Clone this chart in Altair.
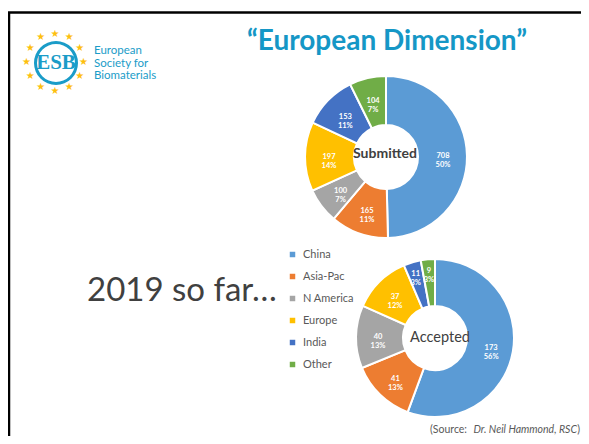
import altair as alt
import pandas as pd

# ---------------- data ----------------
regions = ["China", "Asia-Pac", "N America", "Europe", "India", "Other"]
colors = ["#5B9BD5", "#ED7D31", "#A5A5A5", "#FFC000", "#4472C4", "#70AD47"]
submitted = [708, 165, 100, 197, 153, 104]
submitted_pct = ["50%", "11%", "7%", "14%", "11%", "7%"]
accepted = [173, 41, 40, 37, 11, 9]
accepted_pct = ["56%", "13%", "13%", "12%", "3%", "3%"]
star_angles = [0, 30, 60, 90, 120, 150, 180, 210, 240, 270, 300, 330]

W, H = 573, 428
TEAL = "#1A9CC8"
one = pd.DataFrame({"k": [0]})


def donut_df(values, pcts):
    total = sum(values)
    return pd.DataFrame({
        "region": regions,
        "value": values,
        "idx": list(range(len(values))),
        "label": [f"{v}\n{p}" for v, p in zip(values, pcts)],
        "small": [v / total < 0.05 for v in values],
    })


color_enc = alt.Color(
    "region:N",
    scale=alt.Scale(domain=regions, range=colors),
    sort=regions,
    legend=alt.Legend(
        title=None, orient="none", legendX=279, legendY=241,
        symbolType="square", symbolSize=30, symbolStrokeWidth=0,
        labelFont="Lato", labelFontSize=11, labelColor="#595959",
        rowPadding=10, labelOffset=5, padding=0, labelLimit=200,
    ),
)


def donut(df, cx, cy, r_out, r_in):
    base = alt.Chart(df).encode(
        theta=alt.Theta("value:Q", stack=True),
        order=alt.Order("idx:Q", sort="ascending"),
        x=alt.value(cx),
        y=alt.value(cy),
    )
    arc = base.mark_arc(outerRadius=r_out, innerRadius=r_in,
                        stroke="white", strokeWidth=2).encode(color=color_enc)
    txt_style = dict(lineBreak="\n", font="Lato", fontSize=7.5,
                     fontWeight="bold", color="white", lineHeight=9,
                     align="center", baseline="middle")
    lab_big = base.mark_text(radius=57, **txt_style).encode(
        text="t:N", detail="region:N"
    ).transform_calculate(t="datum.small ? '' : datum.label")
    lab_small = base.mark_text(radius=67, **txt_style).encode(
        text="t:N", detail="region:N"
    ).transform_calculate(t="datum.small ? datum.label : ''")
    return alt.layer(arc, lab_big, lab_small)


sub = donut(donut_df(submitted, submitted_pct), 378, 149, 81, 32)
acc = donut(donut_df(accepted, accepted_pct), 427, 330, 79, 32)


def label(text, x, y, **kw):
    return alt.Chart(one).mark_text(text=text, **kw).encode(
        x=alt.value(x), y=alt.value(y))


sub_title = label("Submitted", 377, 146, font="Lato", fontSize=14,
                  fontWeight="bold", color="#404040", align="center",
                  baseline="middle")
acc_title = label("Accepted", 432, 330, font="Lato", fontSize=14.5,
                  color="#404040", align="center", baseline="middle")

title = label("\u201cEuropean Dimension\u201d", 379, 42, font="Lato",
              fontSize=28, fontWeight="bold", color="#1597C6",
              align="center", baseline="alphabetic")
so_far = label("2019 so far\u2026", 79, 293, font="Lato", fontSize=33,
               color="#404040", align="left", baseline="alphabetic")

src1 = label("(Source:", 459, 425, font="Lato", fontSize=10.5,
             color="#595959", align="right", baseline="alphabetic")
src2 = label("Dr.  Neil Hammond, RSC", 569, 425, font="Lato", fontSize=10.5,
             fontStyle="italic", color="#595959", align="right",
             baseline="alphabetic")
src3 = label(")", 572, 425, font="Lato", fontSize=10.5, color="#595959",
             align="right", baseline="alphabetic")

# logo
stars = alt.Chart(pd.DataFrame({"angle": star_angles})).mark_text(
    text="\u2605", font="DejaVu Sans", fontSize=10, color="#FDC00F",
    radius=28.5, align="center", baseline="middle"
).encode(
    theta=alt.Theta("angle:Q", scale=alt.Scale(domain=[0, 360], range=[0, 6.2832])),
    x=alt.value(47), y=alt.value(54),
)
ring = alt.Chart(one).mark_arc(innerRadius=19, outerRadius=22,
                               theta=0, theta2=6.2832, color=TEAL).encode(
    x=alt.value(48), y=alt.value(55))
esb = label("ESB", 48, 55, font="Liberation Sans Narrow", fontSize=21,
            fontWeight="bold", color=TEAL, align="center", baseline="middle")
logo_txt = label("European\nSociety for\nBiomaterials", 86, 43, font="Lato",
                 fontSize=11.5, color=TEAL, align="left", baseline="middle",
                 lineBreak="\n", lineHeight=12.5)

frame_top = alt.Chart(one).mark_rule(color="black", strokeWidth=2.5).encode(
    x=alt.value(0), x2=alt.value(W), y=alt.value(4.5))
frame_left = alt.Chart(one).mark_rule(color="black", strokeWidth=2.5).encode(
    x=alt.value(1), y=alt.value(4.5), y2=alt.value(H))

chart = alt.layer(
    frame_top, frame_left, stars, ring, esb, logo_txt,
    title, sub, acc, sub_title, acc_title, so_far, src1, src2, src3,
).resolve_scale(theta="independent").properties(
    width=W, height=H, padding=0, background="white",
    autosize=alt.AutoSizeParams(type="none"),
).configure_view(stroke=None)

chart.save("out.html", embed_options={"renderer": "svg", "actions": False})
